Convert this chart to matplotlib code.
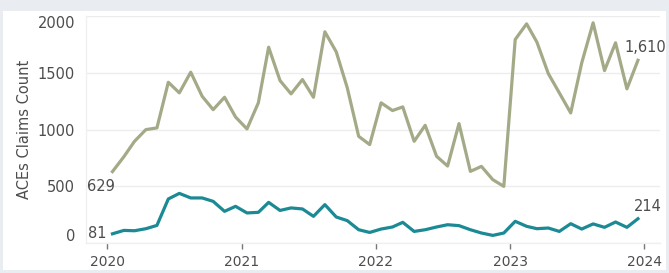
import numpy as np
import pandas as pd
import matplotlib
matplotlib.use("Agg")
import matplotlib.pyplot as plt
import matplotlib.dates as mdates
from matplotlib.patches import Rectangle
from matplotlib.transforms import ScaledTranslation

# monthly claims, Jan 2020 - Dec 2023
months = pd.date_range("2020-01-01", "2023-12-01", freq="MS") + pd.Timedelta(days=14)

claims_all = [629, 760, 896, 999, 1014, 1416, 1323, 1505, 1293, 1175, 1284, 1110,
              1005, 1235, 1725, 1431, 1314, 1440, 1284, 1861, 1684, 1367, 940, 867,
              1235, 1167, 1199, 896, 1037, 764, 678, 1052, 631, 675, 558, 499,
              1793, 1931, 1770, 1493, 1323, 1146, 1587, 1940, 1519, 1764, 1358, 1610]
claims_sub = [81, 111, 108, 126, 155, 388, 437, 397, 397, 367, 279, 323,
              265, 270, 358, 287, 309, 300, 235, 338, 229, 197, 117, 93,
              123, 141, 182, 102, 117, 141, 161, 153, 117, 88, 67, 88,
              191, 147, 126, 132, 102, 170, 123, 168, 138, 185, 138, 214]

green = "#a3aa87"
teal = "#1b8a95"
txt = "#4d4d4d"

fig = plt.figure(figsize=(6.69, 2.73), dpi=100, facecolor="#e9ecf0")
bg = Rectangle((3 / 669, 3 / 273), 663 / 669, 259 / 273,
               transform=fig.transFigure, facecolor="white",
               edgecolor="none", zorder=-10)
fig.add_artist(bg)

ax = fig.add_axes([86 / 669, 30 / 273, 574 / 669, 227 / 273])
ax.set_zorder(1)
ax.set_facecolor("white")

ax.plot(months, claims_all, color=green, lw=2.3, zorder=3)
ax.plot(months, claims_sub, color=teal, lw=2.3, zorder=3)

ax.set_ylim(0, 2000)
ax.set_yticks([0, 500, 1000, 1500, 2000])
ax.set_xlim(pd.Timestamp("2019-11-04"), pd.Timestamp("2024-02-13"))
ax.xaxis.set_major_locator(mdates.YearLocator())
ax.xaxis.set_major_formatter(mdates.DateFormatter("%Y"))

ax.grid(axis="y", color="#ededed", lw=1)
ax.set_axisbelow(True)
for s in ax.spines.values():
    s.set_color("#f0f0f0")
    s.set_linewidth(1)
ax.spines["top"].set_visible(False)
ax.spines["right"].set_visible(False)

ax.tick_params(axis="y", length=0, pad=8, labelsize=10.5, labelcolor=txt)
ax.tick_params(axis="x", length=4, width=1, color="#777777", pad=5,
               labelsize=10, labelcolor=txt)
ax.set_ylabel("ACEs Claims Count", fontsize=10.5, color=txt, labelpad=4)

# edge tick labels sit a bit inside the plot, like the original
yt = ax.yaxis.get_major_ticks()
yt[0].label1.set_transform(yt[0].label1.get_transform()
                           + ScaledTranslation(0, 8 / 100, fig.dpi_scale_trans))
yt[-1].label1.set_transform(yt[-1].label1.get_transform()
                            + ScaledTranslation(0, -6 / 100, fig.dpi_scale_trans))

# end-point labels
ax.annotate(f"{claims_all[0]:,}", (months[0], claims_all[0]), xytext=(2, -11),
            textcoords="offset points", ha="right", va="center",
            fontsize=10.5, color=txt)
ax.annotate(f"{claims_sub[0]:,}", (months[0], claims_sub[0]), xytext=(-4, 0),
            textcoords="offset points", ha="right", va="center",
            fontsize=10.5, color=txt)
ax.annotate(f"{claims_all[-1]:,}", (months[-1], claims_all[-1]), xytext=(5, 9),
            textcoords="offset points", ha="center", va="center",
            fontsize=10.5, color=txt)
ax.annotate(f"{claims_sub[-1]:,}", (months[-1], claims_sub[-1]), xytext=(7, 9),
            textcoords="offset points", ha="center", va="center",
            fontsize=10.5, color=txt)

fig.savefig("out.png", dpi=100, facecolor=fig.get_facecolor())
